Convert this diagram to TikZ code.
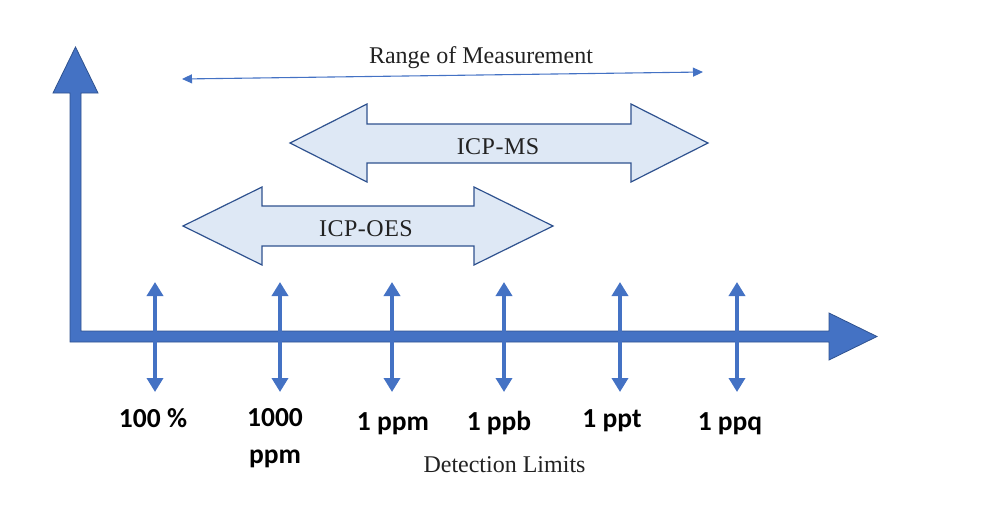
\documentclass[tikz,border=0pt]{standalone}
\usepackage{fontspec}
\setmainfont{Liberation Serif}
\newfontfamily\lblfont{Carlito}
\newfontfamily\icpfont[LetterSpace=2]{Liberation Serif}
\usetikzlibrary{arrows.meta}
\definecolor{axisblue}{HTML}{4472C4}
\definecolor{edgeblue}{HTML}{2F528F}
\definecolor{paleblue}{HTML}{DEE8F5}
\definecolor{txtgray}{HTML}{222222}
\begin{document}
\begin{tikzpicture}[x=1pt,y=-1pt,
  axisshape/.style={draw=edgeblue,fill=axisblue,line width=0.8pt,line join=miter},
  blockarrow/.style={draw=edgeblue,fill=paleblue,line width=1.2pt,line join=miter},
  tickarrow/.style={draw=axisblue,line width=4.5pt,{Triangle[width=16pt,length=14pt]}-{Triangle[width=16pt,length=14pt]}},
  rangearrow/.style={draw=axisblue,line width=1.1pt,{Triangle[width=9pt,length=10pt]}-{Triangle[width=9pt,length=10pt]}},
  lbl/.style={inner sep=0pt,anchor=base,text=black,font=\lblfont\bfseries\fontsize{27.5}{37}\selectfont},
  serif/.style={inner sep=0pt,anchor=base,text=txtgray,font=\fontsize{24}{28}\selectfont},
  icp/.style={inner sep=0pt,anchor=base,text=txtgray,font=\icpfont\fontsize{24}{28}\selectfont}]
\useasboundingbox (0,0) rectangle (991,509);
% axes
\draw[axisshape] (70,342) -- (70,93) -- (53,93) -- (75.5,47) -- (98,93) -- (81,93)
  -- (81,331) -- (829,331) -- (829,313) -- (877,336.5) -- (829,360) -- (829,342) -- cycle;
% tick double arrows
\foreach \i/\x in {1/155,2/280,3/392,4/504,5/620,6/737}{
  \coordinate (tt\i) at (\x,282);
  \coordinate (tb\i) at (\x,392);
  \draw[tickarrow] (tt\i) -- (tb\i);
}
% range of measurement
\coordinate (rl) at (182,79);
\coordinate (rr) at (703,72);
\draw[rangearrow] (rl) -- (rr);
\node[serif] (range) at (481,63) {Range of Measurement};
% block arrows
\draw[blockarrow] (290,143) -- (367,104) -- (367,124) -- (631,124) -- (631,104) -- (708,143)
  -- (631,182) -- (631,163) -- (367,163) -- (367,182) -- cycle;
\draw[blockarrow] (183,226) -- (262,187) -- (262,206) -- (474,206) -- (474,187) -- (553,226)
  -- (474,265) -- (474,246) -- (262,246) -- (262,265) -- cycle;
\node[icp] (ms) at (498,154) {ICP-MS};
\node[icp] (oes) at (366,236) {ICP-OES};
% labels
\node[lbl] (l1) at (153,427) {100 \%};
\node[lbl,align=center] (l2) at (275,463) {1000\\ppm};
\node[lbl] (l3) at (393,430) {1 ppm};
\node[lbl] (l4) at (499,430) {1 ppb};
\node[lbl] (l5) at (612,427) {1 ppt};
\node[lbl] (l6) at (730,430) {1 ppq};
\node[serif] (det) at (504.5,472) {Detection Limits};
\end{tikzpicture}
\end{document}
